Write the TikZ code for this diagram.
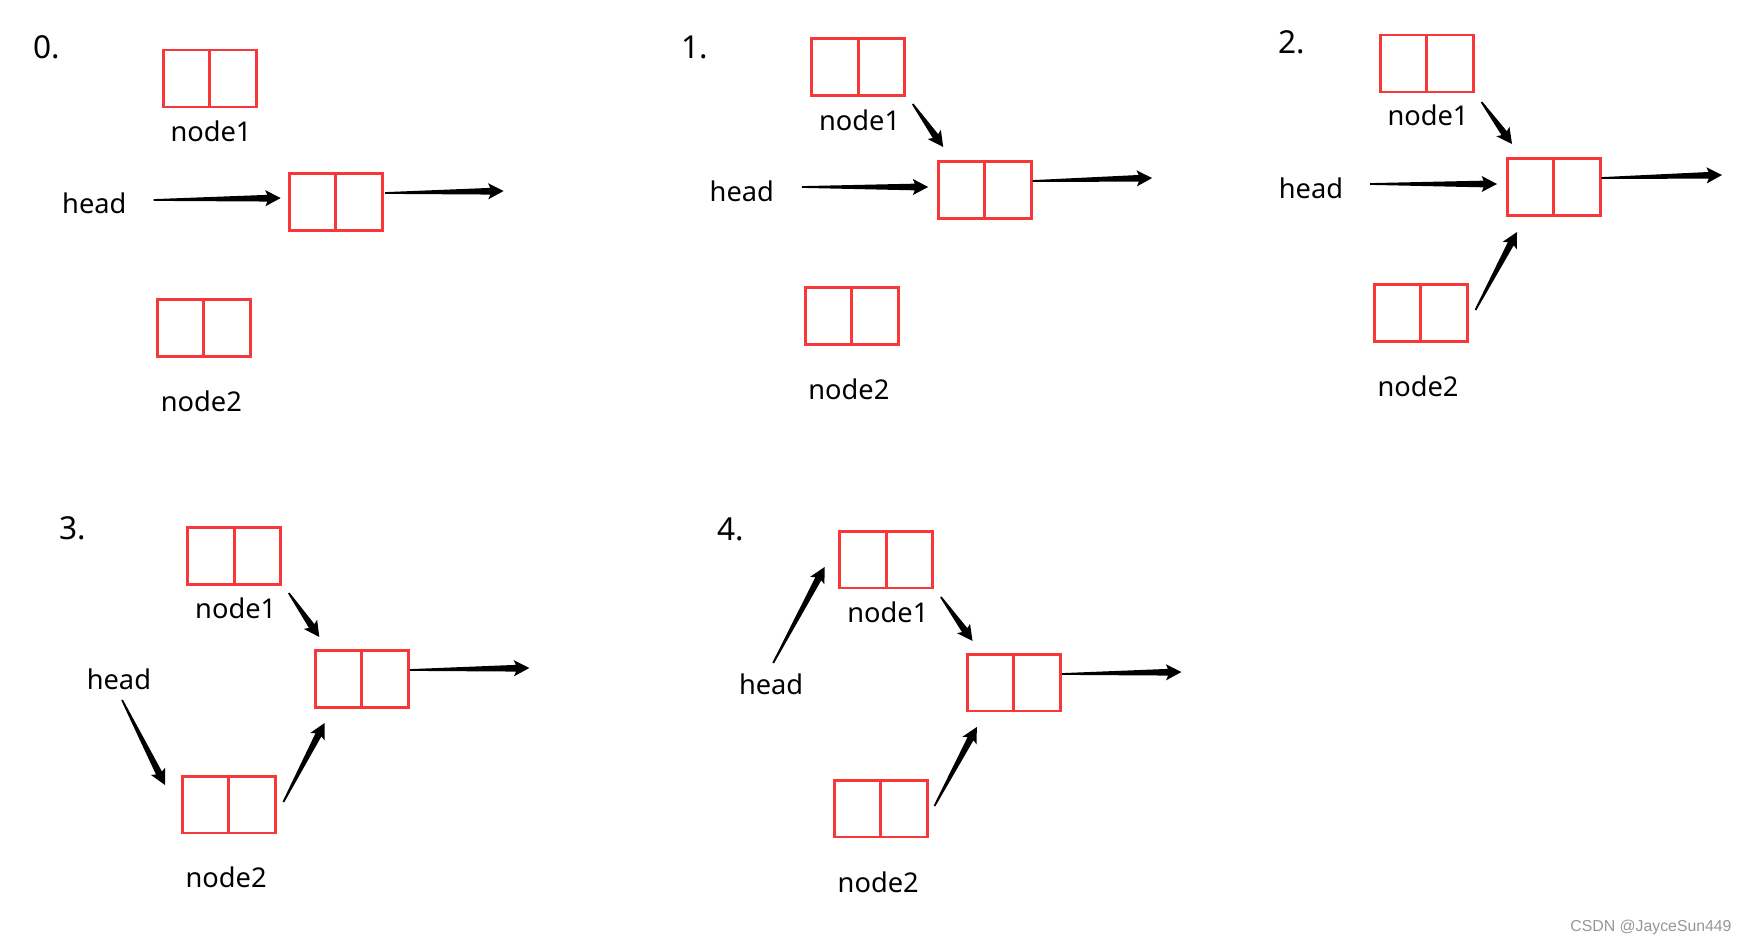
\documentclass[tikz,border=0pt]{standalone}
\usepackage{fontspec}
\setmainfont{Noto Sans}
\newfontfamily\markfont{Liberation Sans}
\usepackage{xcolor}
\usetikzlibrary{positioning, calc}

\definecolor{boxred}{RGB}{248,56,56}
\definecolor{markgray}{RGB}{150,150,150}

% one list node = two red cells, #1a and #1b
\newcommand{\listnode}[3]{%
  \node[cell] (#1a) at (#2,#3) {};
  \node[cell, right=0pt of #1a] (#1b) {};
}
% tapered black arrow from #1 to #2
\newcommand{\wedgearrow}[2]{%
  \coordinate (ws) at (#1);
  \coordinate (we) at (#2);
  \coordinate (wh) at ($(we)!8.8pt!(ws)$);
  \coordinate (wj) at ($(we)!7.6pt!(ws)$);
  \fill ($(ws)!0.5pt!90:(we)$) -- ($(wj)!1.9pt!90:(we)$) -- ($(wh)!4.6pt!90:(we)$) -- (we)
    -- ($(wh)!4.6pt!-90:(we)$) -- ($(wj)!1.9pt!-90:(we)$) -- ($(ws)!0.5pt!-90:(we)$) -- cycle;
}

\tikzset{
  cell/.style={draw=boxred, line width=1.7pt, minimum width=0.93cm, minimum height=1.14cm,
    inner sep=0pt, outer sep=0pt},
  lbl/.style={font=\fontsize{15.5}{18}\selectfont, inner sep=0pt},
  stepno/.style={font=\fontsize{18}{21}\selectfont, inner sep=0pt},
}

\begin{document}
\begin{tikzpicture}[x=0.02cm, y=-0.02cm]
    \useasboundingbox (0,0) rectangle (1748,946);

    % 0.
    \node[stepno] (num0) at (46.5,47) {0.};
    \listnode{one0}{186.5}{78.5}
    \listnode{mid0}{312.5}{202}
    \listnode{two0}{180.5}{328}
    \node[lbl] (lone0) at (211,131) {node1};
    \node[lbl] (head0) at (94.3,203) {head};
    \node[lbl] (ltwo0) at (201.4,401) {node2};
    \coordinate (end0) at (503.6,191);
    \wedgearrow{[shift={(59.3,-3)}]head0.center}{[shift={(-31.8,-4)}]mid0a.center}
    \wedgearrow{[shift={(26.2,-9)}]mid0b.center}{end0}

    % 1.
    \node[stepno] (num1) at (694.6,47) {1.};
    \listnode{one1}{835}{67}
    \listnode{mid1}{961.3}{190}
    \listnode{two1}{828.4}{316}
    \node[lbl] (lone1) at (859.6,120) {node1};
    \node[lbl] (head1) at (741.8,191) {head};
    \node[lbl] (ltwo1) at (848.9,389) {node2};
    \coordinate (end1) at (1152.1,178);
    \wedgearrow{[shift={(31.2,37)}]one1b.center}{[shift={(-18.1,-43)}]mid1a.center}
    \wedgearrow{[shift={(60,-4)}]head1.center}{[shift={(-33.1,-3)}]mid1a.center}
    \wedgearrow{[shift={(24.9,-9)}]mid1b.center}{end1}

    % 2.
    \node[stepno] (num2) at (1292,42) {2.};
    \listnode{one2}{1403.5}{63.5}
    \listnode{mid2}{1530.5}{187}
    \listnode{two2}{1397.5}{313}
    \node[lbl] (lone2) at (1428,115) {node1};
    \node[lbl] (head2) at (1311,188) {head};
    \node[lbl] (ltwo2) at (1418,386) {node2};
    \coordinate (end2) at (1722,175);
    \wedgearrow{[shift={(31.5,38.5)}]one2b.center}{[shift={(-18.5,-43)}]mid2a.center}
    \wedgearrow{[shift={(59,-4)}]head2.center}{[shift={(-33.5,-3)}]mid2a.center}
    \wedgearrow{[shift={(24.5,-9)}]mid2b.center}{end2}
    \wedgearrow{[shift={(31.5,-3)}]two2b.center}{[shift={(-13.5,45)}]mid2a.center}

    % 3.
    \node[stepno] (num3) at (72.9,528) {3.};
    \listnode{one3}{210.9}{556}
    \listnode{mid3}{338.4}{679}
    \listnode{two3}{205.6}{804.5}
    \node[lbl] (lone3) at (235.7,608) {node1};
    \node[lbl] (head3) at (118.9,679) {head};
    \node[lbl] (ltwo3) at (226.1,877) {node2};
    \coordinate (end3) at (529.3,668);
    \wedgearrow{[shift={(31.4,37)}]one3b.center}{[shift={(-19.1,-42)}]mid3a.center}
    \wedgearrow{[shift={(3.2,21)}]head3.center}{[shift={(-40.6,-19.5)}]two3a.center}
    \wedgearrow{[shift={(25,-9)}]mid3b.center}{end3}
    \wedgearrow{[shift={(31.3,-2.5)}]two3b.center}{[shift={(-13.8,44)}]mid3a.center}

    % 4.
    \node[stepno] (num4) at (730.4,529) {4.};
    \listnode{one4}{863.1}{559.5}
    \listnode{mid4}{990.6}{682.5}
    \listnode{two4}{857.7}{808.5}
    \node[lbl] (lone4) at (887.9,612) {node1};
    \node[lbl] (head4) at (771.1,684) {head};
    \node[lbl] (ltwo4) at (878.2,882) {node2};
    \coordinate (end4) at (1181.4,672);
    \wedgearrow{[shift={(2.1,-21)}]head4.center}{[shift={(-38.5,7.5)}]one4a.center}
    \wedgearrow{[shift={(31.3,37.5)}]one4b.center}{[shift={(-18.1,-41.5)}]mid4a.center}
    \wedgearrow{[shift={(24.9,-8.5)}]mid4b.center}{end4}
    \wedgearrow{[shift={(30.3,-2.5)}]two4b.center}{[shift={(-13.8,44.5)}]mid4a.center}

    \node[font=\markfont\fontsize{9}{11}\selectfont, text=markgray, inner sep=0pt] (mark) at (1651,927) {CSDN @JayceSun449};

\end{tikzpicture}
\end{document}
